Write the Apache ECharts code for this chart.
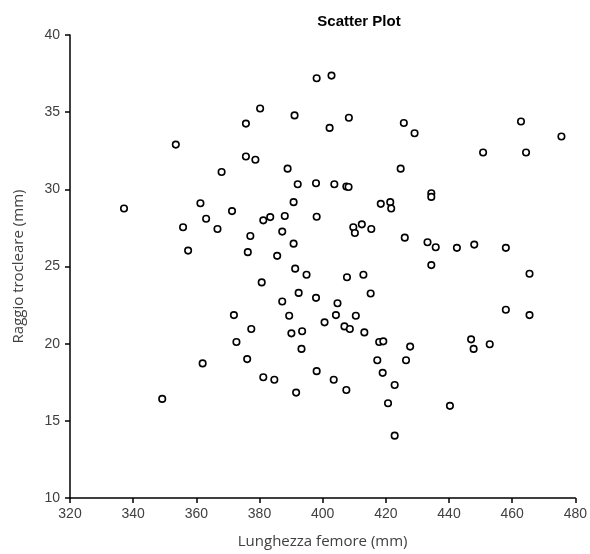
<!DOCTYPE html>
<html>
<head>
<meta charset="utf-8">
<script src="https://cdn.jsdelivr.net/npm/echarts@6/dist/echarts.min.js"></script>
<style>
  html, body { margin: 0; padding: 0; background: #fff; }
  #chart { width: 590px; height: 554px; }
</style>
</head>
<body>
<div id="chart"></div>
<script>
// Lunghezza femore (mm)
var femore = [
  337.1, 349.2, 353.5, 355.8, 357.4, 361.3, 362.0, 363.1, 366.7, 368.0,
  371.3, 371.9, 372.7, 375.7, 375.7, 376.1, 376.3, 377.1, 377.4, 378.7,
  380.2, 380.7, 381.2, 381.2, 383.4, 384.7, 385.6, 387.2, 387.2, 388.0,
  388.9, 389.4, 390.1, 390.8, 390.8, 391.1, 391.3, 391.6, 392.1, 392.4,
  393.3, 393.5, 394.9, 397.9, 397.9, 398.1, 398.1, 398.1, 400.6, 402.2,
  402.8, 403.5, 403.7, 404.2, 404.7, 406.9, 407.5, 408.2, 407.5, 407.7,
  408.3, 408.6, 409.7, 410.2, 410.5, 412.4, 412.9, 413.2, 415.2, 415.4,
  417.3, 417.9, 418.4, 419.0, 419.2, 420.7, 421.4, 421.7, 422.8, 422.8,
  424.7, 425.7, 426.0, 426.4, 427.7, 429.1, 433.2, 434.4, 434.4, 434.4,
  435.8, 440.3, 442.5, 447.0, 447.8, 448.0, 450.8, 452.9, 458.0, 458.0,
  462.8, 464.4, 465.5, 465.5, 475.6
];
// Raggio trocleare (mm)
var raggio = [
  28.76, 16.42, 32.90, 27.54, 26.03, 29.10, 18.72, 28.09, 27.43, 31.12,
  28.59, 21.85, 20.11, 34.26, 32.13, 19.00, 25.93, 26.98, 20.95, 31.92,
  35.24, 23.97, 27.99, 17.82, 28.20, 17.66, 25.69, 27.26, 22.73, 28.27,
  31.34, 21.81, 20.67, 29.17, 26.48, 34.79, 24.86, 16.83, 30.33, 23.29,
  19.66, 20.80, 24.47, 30.39, 22.97, 37.20, 28.22, 18.22, 21.38, 33.98,
  37.37, 17.66, 30.33, 21.85, 22.62, 21.12, 30.18, 30.15, 17.00, 24.30,
  34.64, 20.95, 27.54, 27.17, 21.81, 27.73, 24.47, 20.73, 23.25, 27.43,
  18.93, 20.11, 29.06, 18.11, 20.15, 16.14, 29.17, 28.76, 17.32, 14.04,
  31.34, 34.30, 26.87, 18.93, 19.81, 33.63, 26.57, 29.75, 29.51, 25.09,
  26.25, 15.97, 26.21, 20.28, 19.66, 26.42, 32.39, 19.96, 26.21, 22.20,
  34.40, 32.39, 24.53, 21.85, 33.42
];
var xTicks = [320, 340, 360, 380, 400, 420, 440, 460, 480];
var yTicks = [10, 15, 20, 25, 30, 35, 40];

var points = femore.map(function (x, i) { return [x, raggio[i]]; });

var chart = echarts.init(document.getElementById('chart'), null, { renderer: 'canvas' });
var axisLine = { show: true, lineStyle: { color: '#000', width: 1.5 } };
chart.setOption({
  backgroundColor: '#fff',
  animation: false,
  title: {
    text: 'Scatter Plot',
    left: 354, top: 9, textAlign: 'center',
    textStyle: { fontFamily: 'Liberation Sans, Arial', fontSize: 15, fontWeight: 'bold', color: '#000' }
  },
  grid: { left: 70, right: 12, top: 35, bottom: 49, containLabel: false },
  xAxis: {
    type: 'value',
    min: xTicks[0], max: xTicks[xTicks.length - 1], interval: 20,
    name: 'Lunghezza femore (mm)', nameLocation: 'middle', nameGap: 36,
    nameTextStyle: { fontFamily: 'Open Sans, Noto Sans', fontSize: 15, color: '#404040' },
    axisLine: axisLine,
    axisTick: { show: true, inside: false, length: 5, lineStyle: { color: '#000', width: 1.5 } },
    axisLabel: { fontFamily: 'Liberation Sans, Arial', fontSize: 14, color: '#404040', margin: 9 },
    splitLine: { show: false }
  },
  yAxis: {
    type: 'value',
    min: yTicks[0], max: yTicks[yTicks.length - 1], interval: 5,
    name: 'Raggio trocleare (mm)', nameLocation: 'middle', nameGap: 44, nameRotate: 90,
    nameTextStyle: { fontFamily: 'Open Sans, Noto Sans', fontSize: 15, color: '#404040' },
    axisLine: axisLine,
    axisTick: { show: true, inside: false, length: 5, lineStyle: { color: '#000', width: 1.5 } },
    axisLabel: { fontFamily: 'Liberation Sans, Arial', fontSize: 14, color: '#404040', margin: 10 },
    splitLine: { show: false }
  },
  series: [{
    type: 'scatter',
    data: points,
    symbol: 'circle',
    symbolSize: 6.5,
    itemStyle: { color: '#fff', borderColor: '#000', borderWidth: 1.6, opacity: 1 }
  }]
});
</script>
</body>
</html>
